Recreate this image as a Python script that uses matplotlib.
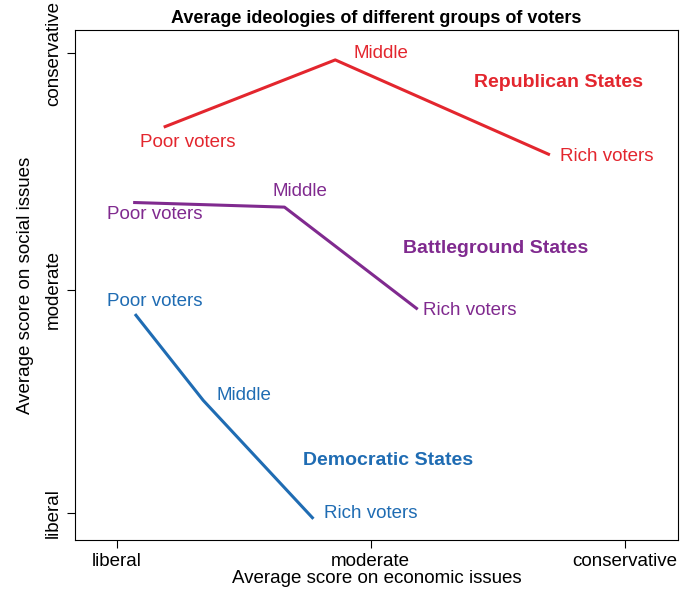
import matplotlib
matplotlib.use("Agg")
from matplotlib import pyplot as plt

plt.rcParams["font.family"] = ["Liberation Sans", "DejaVu Sans"]

groups = ["Republican States", "Battleground States", "Democratic States"]
colors = ["#e3262e", "#802a8f", "#1f6cb3"]
points = ["Poor voters", "Middle", "Rich voters"]
econ = [[0.19, 0.86, 1.70], [0.07, 0.66, 1.18], [0.075, 0.34, 0.77]]
social = [[1.68, 1.97, 1.56], [1.35, 1.33, 0.89], [0.86, 0.49, -0.02]]
label_x = [[0.28, 1.04, 1.93], [0.15, 0.72, 1.39], [0.15, 0.50, 1.00]]
label_y = [[1.61, 2.00, 1.55], [1.30, 1.40, 0.88], [0.92, 0.51, 0.00]]
group_x = [1.74, 1.49, 1.07]
group_y = [1.87, 1.15, 0.23]
tick_labels = ["liberal", "moderate", "conservative"]

fig = plt.figure(figsize=(6.82, 5.9), dpi=100)
ax = fig.add_axes([75 / 682, 50 / 590, 603 / 682, 510 / 590])
for g in range(3):
    ax.plot(econ[g], social[g], color=colors[g], lw=2.2)
    for i in range(3):
        ax.text(label_x[g][i], label_y[g][i], points[i], color=colors[g],
                fontsize=13.5, ha="center", va="center")
    ax.text(group_x[g], group_y[g], groups[g], color=colors[g], fontsize=14,
            fontweight="bold", ha="center", va="center")

ax.set_xlim(-0.165, 2.21)
ax.set_ylim(-0.117, 2.10)
ax.set_xticks([0, 1, 2])
ax.set_xticklabels(tick_labels, fontsize=13.5)
ax.set_yticks([0, 0.97, 2])
ax.set_yticklabels(tick_labels, fontsize=13.5, rotation=90, va="center")
ax.tick_params(length=6)
ax.set_xlabel("Average score on economic issues", fontsize=13.5, labelpad=0)
ax.set_ylabel("Average score on social issues", fontsize=13.5, labelpad=8)
ax.set_title("Average ideologies of different groups of voters", fontsize=13,
             fontweight="bold", pad=5)
fig.savefig("out.png")
